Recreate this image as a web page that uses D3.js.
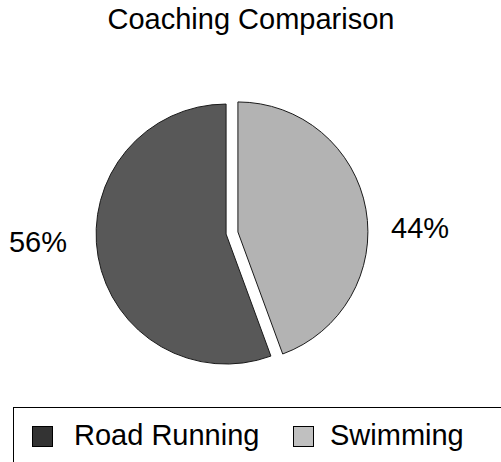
<!DOCTYPE html>
<html>
<head>
<meta charset="utf-8">
<script src="https://cdn.jsdelivr.net/npm/d3@7"></script>
<style>
  html, body { margin: 0; padding: 0; background: #fff; }
  svg { display: block; font-family: 'Liberation Sans', Arial, sans-serif; }
</style>
</head>
<body>
<div id="chart"></div>
<script>
const title = 'Coaching Comparison'
const categories = ['Road Running', 'Swimming']
const values = [55.6, 44.4]
const pieColors = ['#585858', '#b3b3b3']
const legendColors = ['#333333', '#c0c0c0']

const width = 501
const height = 462
const center = { x: 232, y: 233 }
const radius = 130
const explode = 6
const fontSize = 29

const svg = d3.select('#chart').append('svg')
  .attr('width', width)
  .attr('height', height)

svg.append('text')
  .attr('x', 251)
  .attr('y', 29)
  .attr('text-anchor', 'middle')
  .attr('font-size', fontSize)
  .attr('fill', '#000')
  .text(title)

const data = categories.map((c, i) => ({ label: c, value: values[i], fill: pieColors[i], swatch: legendColors[i] }))
const total = d3.sum(values)

// second slice starts at 12 o'clock and runs clockwise, the first fills the rest
const start = 2 * Math.PI * values[1] / total
const pie = d3.pie()
  .sort(null)
  .value((d) => d.value)
  .startAngle(start)
  .endAngle(start + 2 * Math.PI)

const arc = d3.arc().innerRadius(0).outerRadius(radius)
const fmt = d3.format('.0%')

const g = svg.append('g')
  .attr('transform', `translate(${center.x}, ${center.y})`)

const slices = g.selectAll('.slice')
  .data(pie(data))
  .enter().append('g')
  .attr('class', 'slice')
  .attr('transform', (d) => {
    const mid = (d.startAngle + d.endAngle) / 2
    return `translate(${Math.sin(mid) * explode}, ${-Math.cos(mid) * explode})`
  })

slices.append('path')
  .attr('d', arc)
  .attr('fill', (d) => d.data.fill)
  .attr('stroke', '#1a1a1a')
  .attr('stroke-width', 1)

// labels sit outside the pie, on the side of each slice
const labelGap = [29, 23]
const labelDy = [9, -5]
g.selectAll('.pct')
  .data(pie(data))
  .enter().append('text')
  .attr('class', 'pct')
  .attr('font-size', fontSize)
  .attr('fill', '#000')
  .attr('text-anchor', (d) => Math.sin((d.startAngle + d.endAngle) / 2) < 0 ? 'end' : 'start')
  .attr('x', (d, i) => {
    const side = Math.sin((d.startAngle + d.endAngle) / 2) < 0 ? -1 : 1
    return side * (radius + explode + labelGap[i])
  })
  .attr('y', (d, i) => labelDy[i])
  .attr('dy', '0.35em')
  .text((d) => fmt(d.data.value / total))

// legend box runs off the right and bottom edges
const legend = svg.append('g')
  .attr('transform', 'translate(13, 407)')

legend.append('rect')
  .attr('x', 0.5)
  .attr('y', 0.5)
  .attr('width', 520)
  .attr('height', 100)
  .attr('fill', '#fff')
  .attr('stroke', '#000')
  .attr('stroke-width', 1)

const itemX = [19, 280]
const textX = [42, 37]
const items = legend.selectAll('.item')
  .data(data)
  .enter().append('g')
  .attr('class', 'item')
  .attr('transform', (d, i) => `translate(${itemX[i]}, 19)`)

items.append('rect')
  .attr('x', 0.5)
  .attr('y', 0.5)
  .attr('width', 20)
  .attr('height', 20)
  .attr('fill', (d) => d.swatch)
  .attr('stroke', '#000')
  .attr('stroke-width', 1)

items.append('text')
  .attr('x', (d, i) => textX[i])
  .attr('y', 19)
  .attr('font-size', fontSize)
  .attr('fill', '#000')
  .text((d) => d.label)
</script>
</body>
</html>
